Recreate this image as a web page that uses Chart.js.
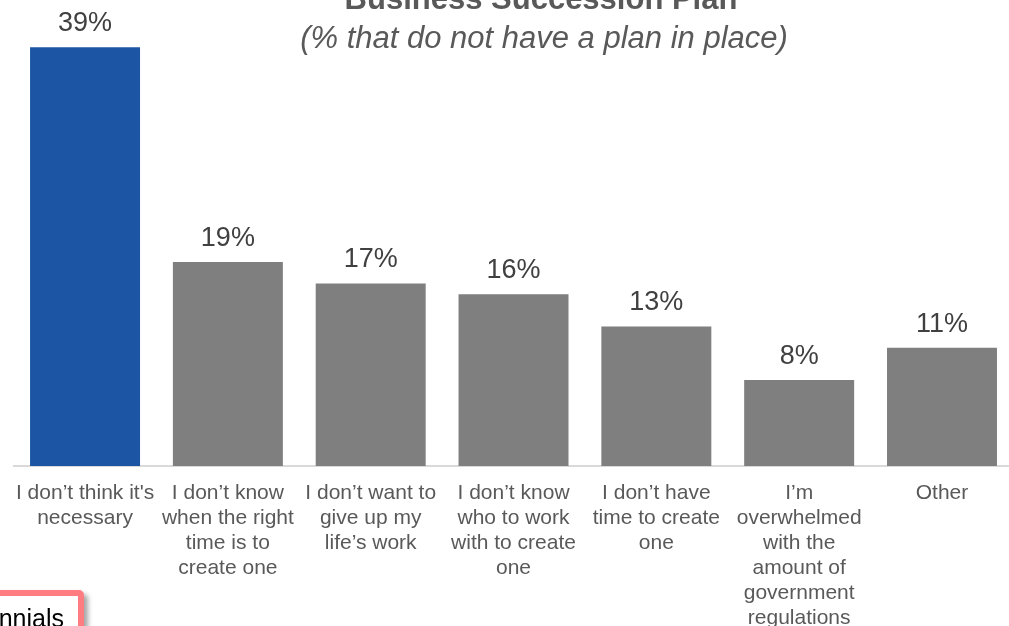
<!DOCTYPE html>
<html>
<head>
<meta charset="utf-8">
<script src="https://cdn.jsdelivr.net/npm/chart.js@4.4.1/dist/chart.umd.min.js"></script>
<style>
  html, body { margin: 0; padding: 0; background: #ffffff; overflow: hidden; }
  body { width: 1009px; height: 626px; position: relative; }
  #wrap { position: absolute; left: 0; top: 0; width: 1020px; height: 626px; }
  #tag {
    position: absolute; right: 925px; top: 590px;
    background: #ffffff; border: 6px solid #ff7c80; border-radius: 5px;
    box-shadow: 4px 4px 5px rgba(0,0,0,0.35);
    font-family: "Liberation Sans", Arial, sans-serif; font-size: 25px; color: #000;
    padding: 7px 14px 10px 12px; white-space: nowrap; line-height: 30px;
  }
</style>
</head>
<body>
<div id="wrap"><canvas id="c" width="1020" height="626"></canvas></div>
<div id="tag">Millennials</div>
<script>
const titleText = "Business Succession Plan";
const subtitleText = "(% that do not have a plan in place)";
const categories = [
  ["I don\u2019t think it's", "necessary"],
  ["I don\u2019t know", "when the right", "time is to", "create one"],
  ["I don\u2019t want to", "give up my", "life\u2019s work"],
  ["I don\u2019t know", "who to work", "with to create", "one"],
  ["I don\u2019t have", "time to create", "one"],
  ["I\u2019m", "overwhelmed", "with the", "amount of", "government", "regulations"],
  ["Other"]
];
const values = [39, 19, 17, 16, 13, 8, 11];
const barColors = ["#1c55a4", "#7f7f7f", "#7f7f7f", "#7f7f7f", "#7f7f7f", "#7f7f7f", "#7f7f7f"];

const FONT = '"Liberation Sans", Arial, sans-serif';

const overlay = {
  id: 'overlay',
  afterDatasetsDraw(chart) {
    const ctx = chart.ctx;
    ctx.save();
    const meta = chart.getDatasetMeta(0);
    ctx.font = '27px ' + FONT;
    ctx.fillStyle = '#404040';
    ctx.textAlign = 'center';
    ctx.textBaseline = 'alphabetic';
    meta.data.forEach((bar, i) => {
      ctx.fillText(values[i] + '%', bar.x, bar.y - 16);
    });
    ctx.fillStyle = '#595959';
    ctx.font = 'bold 31px ' + FONT;
    ctx.fillText(titleText, 541, 9);
    ctx.font = 'italic 31px ' + FONT;
    ctx.fillText(subtitleText, 544, 48);
    ctx.restore();
  }
};

new Chart(document.getElementById('c'), {
  type: 'bar',
  data: {
    labels: categories,
    datasets: [{
      data: values,
      backgroundColor: barColors,
      borderWidth: 0,
      barPercentage: 0.77,
      categoryPercentage: 1.0
    }]
  },
  options: {
    responsive: false,
    animation: false,
    layout: { padding: { left: 13, right: 6.6, top: 36.4, bottom: 0 } },
    plugins: { legend: { display: false }, tooltip: { enabled: false } },
    scales: {
      x: {
        grid: { display: false, drawTicks: false },
        border: { display: true, color: '#d9d9d9', width: 2 },
        ticks: {
          color: '#595959',
          font: { family: FONT, size: 21, lineHeight: 1.19 },
          padding: 15,
          maxRotation: 0, minRotation: 0, autoSkip: false
        },
        afterFit(scale) { scale.height = 160; }
      },
      y: {
        display: false,
        min: 0, max: 40
      }
    }
  },
  plugins: [overlay]
});
</script>
</body>
</html>
